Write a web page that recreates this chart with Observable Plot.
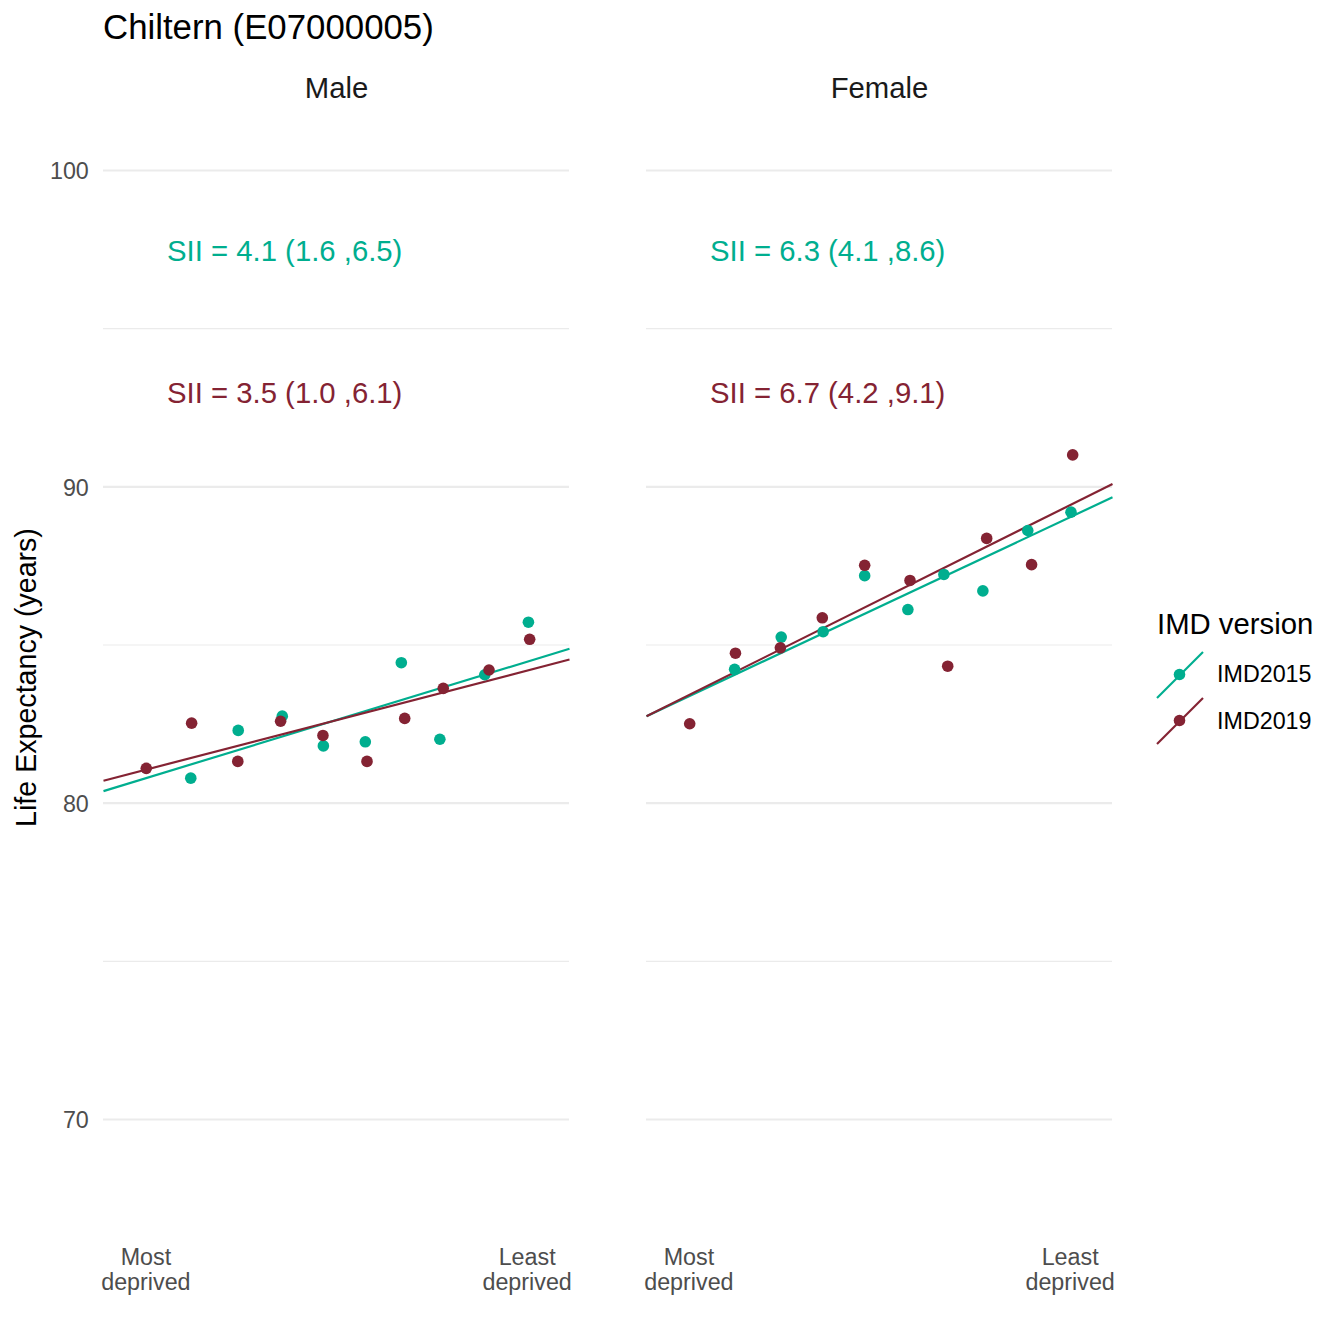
<!DOCTYPE html>
<html>
<head>
<meta charset="utf-8">
<script src="https://cdn.jsdelivr.net/npm/d3@7"></script>
<script src="https://cdn.jsdelivr.net/npm/@observablehq/plot@0.6"></script>
<style>
  html, body { margin: 0; padding: 0; background: #ffffff; }
  #wrap { position: relative; width: 1344px; height: 1344px; font-family: "Liberation Sans", Arial, sans-serif; }
  #wrap svg { position: absolute; left: 0; top: 0; }
  .t { position: absolute; white-space: nowrap; line-height: 1; }
</style>
</head>
<body>
<div id="wrap">
  <div class="t" id="title" style="left:103px; top:9.5px; font-size:34.8px; color:#000;">Chiltern (E07000005)</div>
  <div id="legend"></div>
</div>
<script>
// ---- data ----
const title = "Chiltern (E07000005)";
const sexes = ["Male", "Female"];
const versions = ["IMD2015", "IMD2019"];
const versionColors = ["#00AE8F", "#842333"];

// relative rank of deprivation decile (x) and life expectancy (y)
const maleRank2015 = [0.156, 0.268, 0.372, 0.469, 0.568, 0.653, 0.744, 0.850, 0.953];
const maleLE2015   = [80.79, 82.30, 82.75, 81.81, 81.94, 84.44, 82.02, 84.06, 85.72];
const maleRank2019 = [0.051, 0.158, 0.267, 0.368, 0.468, 0.572, 0.661, 0.752, 0.860, 0.956];
const maleLE2019   = [81.10, 82.53, 81.32, 82.59, 82.14, 81.32, 82.68, 83.63, 84.21, 85.18];
const femaleRank2015 = [0.158, 0.268, 0.367, 0.465, 0.567, 0.652, 0.744, 0.850, 0.952];
const femaleLE2015   = [84.23, 85.25, 85.42, 87.19, 86.12, 87.23, 86.71, 88.62, 89.20];
const femaleRank2019 = [0.052, 0.160, 0.266, 0.365, 0.465, 0.572, 0.661, 0.753, 0.859, 0.956];
const femaleLE2019   = [82.51, 84.74, 84.91, 85.86, 87.52, 87.04, 84.33, 88.37, 87.54, 91.01];

// fitted SII lines: life expectancy at the left and right edge of each panel
const fitSex     = ["Male", "Male", "Female", "Female"];
const fitVersion = ["IMD2015", "IMD2019", "IMD2015", "IMD2019"];
const fitStart   = [80.38, 80.71, 82.75, 82.75];
const fitEnd     = [84.88, 84.54, 89.67, 90.09];

// SII annotations
const siiSex     = ["Male", "Male", "Female", "Female"];
const siiVersion = ["IMD2015", "IMD2019", "IMD2015", "IMD2019"];
const siiText    = ["SII = 4.1 (1.6 ,6.5)", "SII = 3.5 (1.0 ,6.1)", "SII = 6.3 (4.1 ,8.6)", "SII = 6.7 (4.2 ,9.1)"];

const xTickValues = [0.05, 0.95];
const xTickLabels = ["Most\ndeprived", "Least\ndeprived"];
const yMajor = [70, 80, 90, 100];
const yMinor = [75, 85, 95];
const yLabel = "Life Expectancy (years)";
const legendTitle = "IMD version";

// ---- build tables ----
const points = [];
function addPts(sex, version, ranks, les) {
  ranks.forEach((r, i) => points.push({sex, version, rank: r, le: les[i]}));
}
addPts("Male", "IMD2015", maleRank2015, maleLE2015);
addPts("Female", "IMD2015", femaleRank2015, femaleLE2015);
addPts("Male", "IMD2019", maleRank2019, maleLE2019);
addPts("Female", "IMD2019", femaleRank2019, femaleLE2019);

const fits = fitSex.map((s, i) => ({sex: s, version: fitVersion[i], start: fitStart[i], end: fitEnd[i]}));
const labelY = {IMD2015: 97.45, IMD2019: 92.95};
const sii = siiSex.map((s, i) => ({sex: s, version: siiVersion[i], text: siiText[i], ly: labelY[siiVersion[i]]}));

const xDomain = [-0.05, 1.05];
const textFont = 29.3;
const tickFont = 23.3;

const chart = Plot.plot({
  width: 1344,
  height: 1344,
  marginLeft: 103,
  marginRight: 232,
  marginTop: 118,
  marginBottom: 108,
  style: {fontFamily: '"Liberation Sans", Arial, sans-serif', background: "transparent"},
  fx: {domain: sexes, paddingInner: 0.1418, paddingOuter: 0, round: false, axis: null, label: null},
  x: {domain: xDomain, axis: null},
  y: {domain: [66.301, 101.644], axis: null},
  color: {domain: versions, range: versionColors},
  marks: [
    Plot.ruleY(yMinor, {stroke: "#EBEBEB", strokeWidth: 1.1}),
    Plot.ruleY(yMajor, {stroke: "#EBEBEB", strokeWidth: 2.1}),
    Plot.axisY({ticks: yMajor, tickSize: 0, tickPadding: 14.7, fontSize: tickFont, color: "#4D4D4D", label: null, dy: 1.5}),
    Plot.axisX({ticks: xTickValues, tickFormat: d => xTickLabels[xTickValues.indexOf(d)], tickSize: 0, tickPadding: 10.8,
                fontSize: tickFont, color: "#4D4D4D", label: null, lineHeight: 1.07}),
    Plot.text(sexes, {fx: d => d, text: d => d, frameAnchor: "top", lineAnchor: "middle", textAnchor: "middle",
                      dy: -30.3, fontSize: textFont, fill: "#1A1A1A"}),
    Plot.text([sexes[0]], {fx: d => d, text: () => yLabel, frameAnchor: "left", lineAnchor: "middle", textAnchor: "middle",
                           rotate: -90, dx: -77.1, fontSize: 28.6, fill: "#000"}),
    Plot.link(fits, {fx: "sex", x1: xDomain[0], x2: xDomain[1], y1: "start", y2: "end", stroke: "version", strokeWidth: 2.2}),
    Plot.dot(points, {fx: "sex", x: "rank", y: "le", fill: "version", r: 5.8}),
    Plot.text(sii, {fx: "sex", x: 0.1, y: "ly", text: "text", fill: "version", textAnchor: "start", lineAnchor: "middle",
                    fontSize: textFont})
  ]
});
document.getElementById("wrap").appendChild(chart);

// ---- legend (HTML overlay) ----
const lg = document.getElementById("legend");
let html = `<div class="t" style="left:1157px; top:609.2px; font-size:${textFont}px; color:#000;">${legendTitle}</div>`;
const keyTop = [651.5, 697.8];
const textTop = [663, 709.6];
versions.forEach((v, i) => {
  html += `<svg width="48" height="48" style="position:absolute; left:1156px; top:${keyTop[i]}px; overflow:visible">
    <line x1="1" y1="46" x2="47" y2="0" stroke="${versionColors[i]}" stroke-width="2.2"/>
    <circle cx="23.5" cy="22.5" r="5.8" fill="${versionColors[i]}"/></svg>`;
  html += `<div class="t" style="left:1217px; top:${textTop[i]}px; font-size:${tickFont}px; color:#000;">${v}</div>`;
});
lg.innerHTML = html;
</script>
</body>
</html>
